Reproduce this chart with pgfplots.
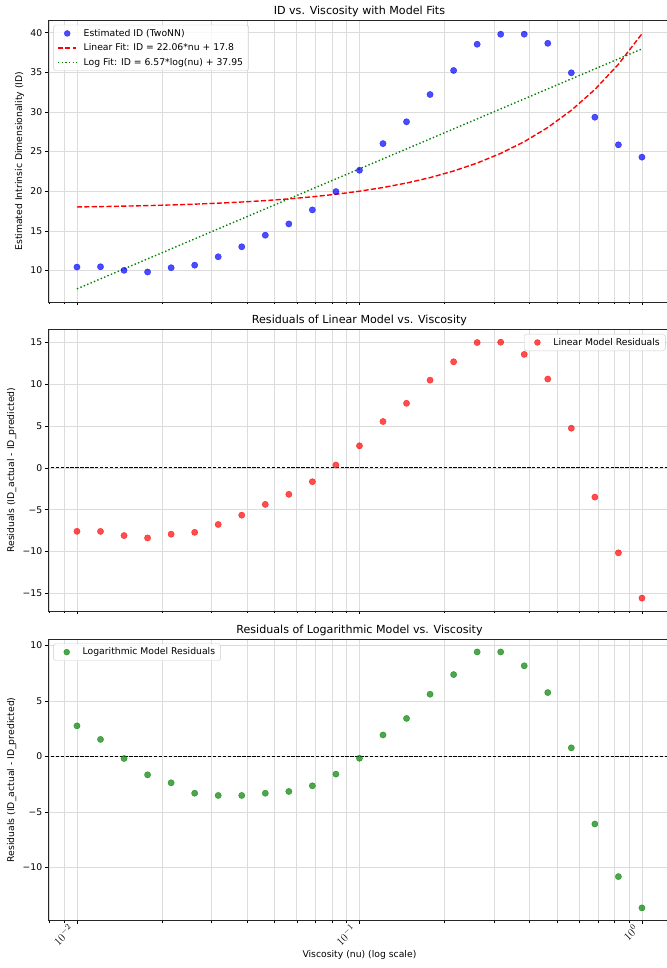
\documentclass[border=0pt]{standalone}
\usepackage{fontspec}
\setmainfont{DejaVu Sans}
\usepackage{pgfplots}
\usepackage{pgfplotstable}
\pgfplotsset{compat=1.18}
\definecolor{mplblue}{HTML}{0000FF}
\definecolor{mplred}{HTML}{FF0000}
\definecolor{mplgreen}{HTML}{008000}
\definecolor{gridc}{HTML}{DCDCDC}
\definecolor{legc}{HTML}{CCCCCC}

\pgfplotstableread{
nu        id     linfit  logfit  linres  logres
0.010000  10.44  18.020   7.694  -7.58   2.75
0.012115  10.48  18.067   8.955  -7.59   1.53
0.014678  10.03  18.124  10.215  -8.09  -0.19
0.017783   9.82  18.192  11.476  -8.37  -1.66
0.021544  10.36  18.275  12.737  -7.92  -2.38
0.026102  10.68  18.376  13.997  -7.70  -3.32
0.031623  11.74  18.498  15.258  -6.76  -3.52
0.038312  13.00  18.645  16.519  -5.65  -3.52
0.046416  14.46  18.824  17.779  -4.36  -3.32
0.056234  15.88  19.041  19.040  -3.16  -3.16
0.068129  17.65  19.303  20.301  -1.65  -2.65
0.082540  19.96  19.621  21.561   0.34  -1.60
0.100000  22.65  20.006  22.822   2.64  -0.17
0.121153  26.01  20.473  24.083   5.54   1.93
0.146780  28.76  21.038  25.344   7.72   3.42
0.177828  32.20  21.723  26.604  10.48   5.60
0.215443  35.23  22.553  27.865  12.68   7.37
0.261016  38.54  23.558  29.126  14.98   9.41
0.316228  39.80  24.776  30.386  15.02   9.41
0.383119  39.81  26.252  31.647  13.56   8.16
0.464159  38.66  28.039  32.908  10.62   5.75
0.562341  34.94  30.205  34.168   4.74   0.77
0.681292  29.34  32.829  35.429  -3.49  -6.09
0.825404  25.86  36.008  36.690 -10.15 -10.83
1.000000  24.30  39.860  37.950 -15.56 -13.65
}\datatable

\pgfplotsset{
  mypanel/.style={
    anchor=south west,
    scale only axis, width=670.9pt, height=304pt,
    xmin=0.0079433, xmax=1.2589,
    xtick={0.01,0.1,1},
    minor xtick={0.008,0.009,0.02,0.03,0.04,0.05,0.06,0.07,0.08,0.09,0.2,0.3,0.4,0.5,0.6,0.7,0.8,0.9},
    grid=both,
    major grid style={gridc, line width=0.8pt},
    minor grid style={gridc, line width=0.8pt},
    tick align=outside,
    xtick pos=left, ytick pos=left,
    major tick length=3.5pt, minor tick length=2pt,
    major tick style={black, line width=0.8pt},
    minor tick style={black, line width=0.6pt},
    axis line style={black!85, line width=0.8pt},
    tick label style={font=\fontsize{10}{12}\selectfont},
    label style={font=\fontsize{10}{12}\selectfont},
    title style={font=\fontsize{12}{14}\selectfont, yshift=-5.5pt},
    legend cell align=left,
    legend style={font=\fontsize{10}{12}\selectfont, draw=legc, rounded corners=2pt,
      fill=white, fill opacity=0.8, text opacity=1, inner xsep=4pt, inner ysep=2.5pt,
      row sep=2.5pt, column sep=5pt},
    legend image code/.code={\draw[##1] (0pt,0pt) -- (20pt,0pt);},
  },
  scat/.style={only marks, mark=*, mark size=3.4pt, color=#1, opacity=0.7,
    legend image code/.code={\path[draw opacity=0, fill opacity=0, sharp corners] (0pt,-3.5pt) rectangle (20pt,3.5pt); \fill[#1, opacity=0.7] (10pt,0pt) circle (3.2pt);}},
}

\begin{document}
\begin{tikzpicture}
% Panel 1
\begin{axis}[xmode=log, mypanel, at={(52.6pt,719pt)},
  xticklabels={},
  ymin=6.04, ymax=41.55,
  ytick={10,15,20,25,30,35,40},
  yticklabels={10,15,20,25,30,35,40},
  title={ID vs. Viscosity with Model Fits},
  ylabel={Estimated Intrinsic Dimensionality (ID)},
  legend style={at={(0.0075,0.984)}, anchor=north west},
]
\addplot[scat=mplblue] table[x=nu, y=id] {\datatable};
\addlegendentry{Estimated ID (TwoNN)}
\addplot[mplred, line width=1.5pt, dash pattern=on 5.55pt off 2.4pt] table[x=nu, y=linfit] {\datatable};
\addlegendentry{Linear Fit: ID = 22.06*nu + 17.8}
\addplot[mplgreen, line width=1.5pt, dash pattern=on 1.5pt off 2.475pt] table[x=nu, y=logfit] {\datatable};
\addlegendentry{Log Fit: ID = 6.57*log(nu) + 37.95}
\end{axis}

% Panel 2
\begin{axis}[xmode=log, mypanel, at={(52.6pt,385.4pt)},
  xticklabels={},
  ymin=-17.1, ymax=16.55,
  ytick={-15,-10,-5,0,5,10,15},
  yticklabels={−15,−10,−5,0,5,10,15},
  title={Residuals of Linear Model vs. Viscosity},
  ylabel={Residuals (ID\_actual - ID\_predicted)},
  legend style={at={(0.9925,0.984)}, anchor=north east},
]
\addplot[scat=mplred] table[x=nu, y=linres] {\datatable};
\addlegendentry{Linear Model Residuals}
\addplot[black, line width=1pt, dash pattern=on 3.7pt off 1.6pt, forget plot] coordinates {(0.005,0) (2,0)};
\end{axis}

% Panel 3
\begin{axis}[xmode=log, mypanel, at={(52.6pt,51.1pt)},
  ymin=-14.8, ymax=10.57,
  ytick={-10,-5,0,5,10},
  yticklabels={−10,−5,0,5,10},
  xticklabels={$10^{-2}$,$10^{-1}$,$10^{0}$},
  xticklabel style={font=\fontsize{12.5}{14}\selectfont, xshift=-10pt, yshift=2pt, rotate=45, anchor=north east, inner sep=1pt},
  title={Residuals of Logarithmic Model vs. Viscosity},
  ylabel={Residuals (ID\_actual - ID\_predicted)},
  xlabel={Viscosity (nu) (log scale)},
  legend style={at={(0.0075,0.984)}, anchor=north west},
]
\addplot[scat=mplgreen] table[x=nu, y=logres] {\datatable};
\addlegendentry{Logarithmic Model Residuals}
\addplot[black, line width=1pt, dash pattern=on 3.7pt off 1.6pt, forget plot] coordinates {(0.005,0) (2,0)};
\end{axis}

\pgfresetboundingbox
\path[use as bounding box] (0,0) rectangle (720pt,1045pt);
\end{tikzpicture}
\end{document}
